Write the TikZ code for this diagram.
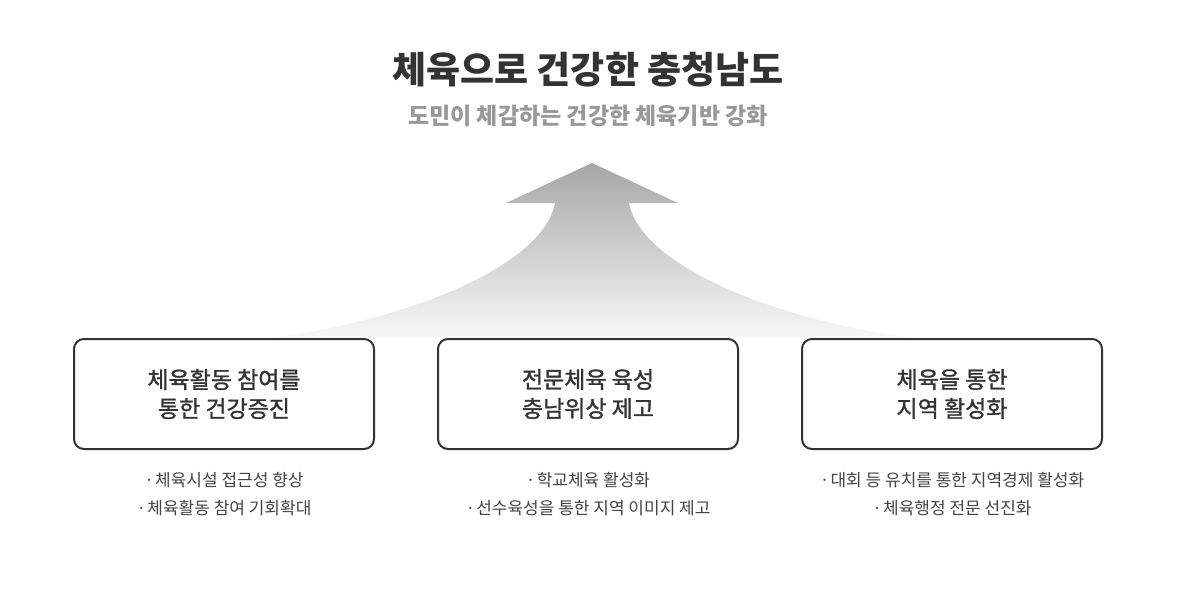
\documentclass[tikz,border=0pt]{standalone}
\usepackage{fontspec}
\setmainfont{Noto Sans CJK KR}
\newfontfamily\krmed[FakeBold=1.3]{Noto Sans CJK KR}
\definecolor{ink}{HTML}{333333}
\definecolor{sub}{HTML}{999999}
\definecolor{bul}{HTML}{444444}
\definecolor{arrtop}{HTML}{A6A6A6}
\definecolor{arrbot}{HTML}{F8F8F8}
\tikzset{
  goalbox/.style={draw=ink, line width=2pt, rounded corners=10pt, fill=white,
    minimum width=300pt, minimum height=110pt, align=center, text=ink,
    font=\fontsize{23pt}{29pt}\selectfont\krmed},
  bullets/.style={align=center, text=bul, font=\fontsize{17pt}{28pt}\selectfont},
}
\begin{document}
\begin{tikzpicture}[x=1pt,y=-1pt]
\useasboundingbox[fill=white] (0,0) rectangle (1181,590);
% arrow
\shade[top color=arrtop, bottom color=arrbot]
  (592,163) -- (678,203) -- (629,203)
  .. controls (641,268) and (784,322) .. (914,338)
  -- (270,338)
  .. controls (400,322) and (543,268) .. (555,203)
  -- (506,203) -- cycle;
% titles
\node[text=ink, font=\fontsize{37pt}{40pt}\selectfont\bfseries] (title) at (588,70) {체육으로 건강한 충청남도};
\node[text=sub, font=\fontsize{23pt}{26pt}\selectfont\bfseries] (subtitle) at (588,116) {도민이 체감하는 건강한 체육기반 강화};
% boxes
\node[goalbox] (b1) at (224,394) {체육활동 참여를\\통한 건강증진};
\node[goalbox] (b2) at (588,394) {전문체육 육성\\충남위상 제고};
\node[goalbox] (b3) at (952,394) {체육을 통한\\지역 활성화};
% bullets
\node[bullets] (l1) at (224,494) {·\hspace{-0.15em} 체육시설 접근성 향상\\·\hspace{-0.15em} 체육활동 참여 기회확대};
\node[bullets] (l2) at (588,494) {·\hspace{-0.15em} 학교체육 활성화\\·\hspace{-0.15em} 선수육성을 통한 지역 이미지 제고};
\node[bullets] (l3) at (952,494) {·\hspace{-0.15em} 대회 등 유치를 통한 지역경제 활성화\\·\hspace{-0.15em} 체육행정 전문 선진화};
\end{tikzpicture}
\end{document}
